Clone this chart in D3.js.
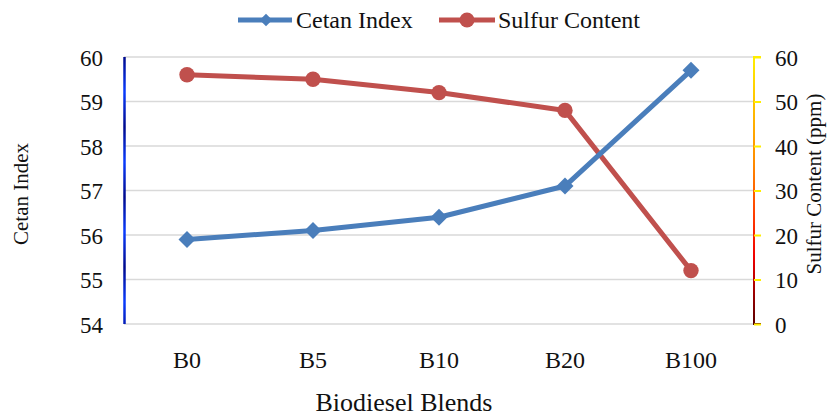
<!DOCTYPE html>
<html>
<head>
<meta charset="utf-8">
<script src="https://cdn.jsdelivr.net/npm/d3@7"></script>
<style>
  html, body { margin: 0; padding: 0; background: #fff; }
  svg text { font-family: "Liberation Serif", "Times New Roman", "DejaVu Serif", serif !important; }
</style>
</head>
<body>
<svg id="chart" width="829" height="416"></svg>
<script>
const categories = ["B0", "B5", "B10", "B20", "B100"];
const cetanIndex = [55.9, 56.1, 56.4, 57.1, 59.7];
const sulfurContent = [56, 55, 52, 48, 12];
const leftTicks = [54, 55, 56, 57, 58, 59, 60];
const rightTicks = [0, 10, 20, 30, 40, 50, 60];

const FONT = '"Liberation Serif", "Times New Roman", "DejaVu Serif", serif';
const svg = d3.select("#chart");
const m = { left: 124, right: 754, top: 57, bottom: 324 };

const x = d3.scaleBand().domain(categories).range([m.left, m.right]);
const yL = d3.scaleLinear().domain([54, 60]).range([m.bottom, m.top]);
const yR = d3.scaleLinear().domain([0, 60]).range([m.bottom, m.top]);

const defs = svg.append("defs");
const gL = defs.append("linearGradient").attr("id", "gradL")
  .attr("gradientUnits", "userSpaceOnUse")
  .attr("x1", 0).attr("x2", 0).attr("y1", 57).attr("y2", 92)
  .attr("spreadMethod", "reflect");
gL.append("stop").attr("offset", 0).attr("stop-color", "#000a8c");
gL.append("stop").attr("offset", 1).attr("stop-color", "#0a3cff");

const gR = defs.append("linearGradient").attr("id", "gradR")
  .attr("gradientUnits", "userSpaceOnUse")
  .attr("x1", 0).attr("x2", 0).attr("y1", m.top).attr("y2", m.bottom);
[[0, "#ffee00"], [0.2, "#ffbb00"], [0.4, "#ff8a00"], [0.6, "#ff3a00"], [0.75, "#f00000"], [0.88, "#a00000"], [1, "#5a0000"]]
  .forEach(([o, c]) => gR.append("stop").attr("offset", o).attr("stop-color", c));

// gridlines
svg.append("g").selectAll("line").data(leftTicks).join("line")
  .attr("x1", m.left).attr("x2", m.right)
  .attr("y1", d => yL(d)).attr("y2", d => yL(d))
  .attr("stroke", "#d9d9d9").attr("stroke-width", 1.5);

// left axis
const axL = svg.append("g").attr("transform", `translate(${m.left},0)`)
  .call(d3.axisLeft(yL).tickValues(leftTicks).tickSize(0).tickPadding(21).tickFormat(d3.format("d")));
axL.select(".domain").attr("stroke", "url(#gradL)").attr("stroke-width", 2.5).attr("d", `M0.5,${m.top}V${m.bottom}`);
axL.selectAll("text").attr("font-size", 23).attr("fill", "#111").attr("dy", "0.36em");

// right axis
const axR = svg.append("g").attr("transform", `translate(${m.right},0)`)
  .call(d3.axisRight(yR).tickValues(rightTicks).tickSize(7).tickPadding(14).tickFormat(d3.format("d")));
axR.select(".domain").attr("stroke", "url(#gradR)").attr("stroke-width", 2).attr("d", `M7,${m.top}H0V${m.bottom}H7`);
axR.selectAll(".tick line").attr("stroke", "url(#gradR)").attr("stroke-width", 2);
axR.selectAll("text").attr("font-size", 23).attr("fill", "#111").attr("dy", "0.36em");

// x axis labels
const axX = svg.append("g").attr("transform", `translate(0,${m.bottom})`)
  .call(d3.axisBottom(x).tickSize(0).tickPadding(27));
axX.select(".domain").remove();
axX.selectAll("text").attr("font-size", 24).attr("fill", "#111");

// axis titles
svg.append("text").attr("x", 404).attr("y", 411)
  .attr("text-anchor", "middle").attr("font-size", 26).attr("fill", "#111").text("Biodiesel Blends");
svg.append("text").attr("transform", "translate(28,194) rotate(-90)")
  .attr("text-anchor", "middle").attr("font-size", 21).attr("fill", "#111").text("Cetan Index");
svg.append("text").attr("transform", "translate(821,184) rotate(-90)")
  .attr("text-anchor", "middle").attr("font-size", 21).attr("fill", "#111").text("Sulfur Content (ppm)");

const blue = "#4a7ebb", red = "#c0504d";
const cx = d => x(d) + x.bandwidth() / 2;

// sulfur line
svg.append("path").datum(categories.map((c, i) => [cx(c), yR(sulfurContent[i])]))
  .attr("d", d3.line()).attr("fill", "none").attr("stroke", red).attr("stroke-width", 5).attr("stroke-linejoin", "round");
svg.append("g").selectAll("circle").data(categories).join("circle")
  .attr("cx", d => cx(d)).attr("cy", (d, i) => yR(sulfurContent[i])).attr("r", 7.7).attr("fill", red);

// cetan line
svg.append("path").datum(categories.map((c, i) => [cx(c), yL(cetanIndex[i])]))
  .attr("d", d3.line()).attr("fill", "none").attr("stroke", blue).attr("stroke-width", 5).attr("stroke-linejoin", "round");
const diamond = d3.symbol().type(d3.symbolDiamond2).size(185);
svg.append("g").selectAll("path").data(categories).join("path")
  .attr("transform", (d, i) => `translate(${cx(d)},${yL(cetanIndex[i])})`)
  .attr("d", diamond).attr("fill", blue);

// legend
const lg = svg.append("g");
lg.append("line").attr("x1", 238).attr("x2", 292).attr("y1", 20).attr("y2", 20).attr("stroke", blue).attr("stroke-width", 5);
lg.append("path").attr("transform", "translate(266,20)").attr("d", d3.symbol().type(d3.symbolDiamond2).size(100)).attr("fill", blue);
lg.append("text").attr("x", 296).attr("y", 28).attr("font-size", 24).attr("fill", "#111").text("Cetan Index");
lg.append("line").attr("x1", 439).attr("x2", 495).attr("y1", 20).attr("y2", 20).attr("stroke", red).attr("stroke-width", 5);
lg.append("circle").attr("cx", 467).attr("cy", 20).attr("r", 7.5).attr("fill", red);
lg.append("text").attr("x", 498).attr("y", 28).attr("font-size", 24).attr("fill", "#111").text("Sulfur Content");
</script>
</body>
</html>
